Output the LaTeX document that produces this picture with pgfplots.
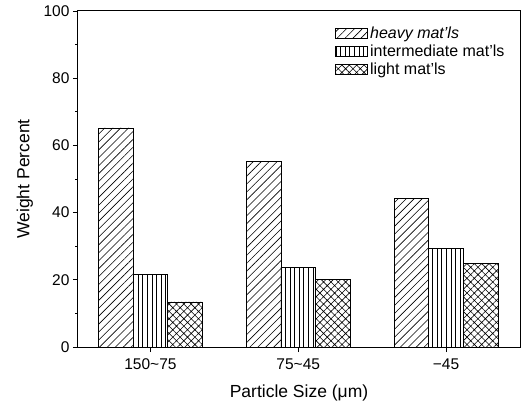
\documentclass[border=0pt]{standalone}
\usepackage{fontspec}
\setmainfont{Liberation Sans}
\usepackage{pgfplots}
\pgfplotsset{compat=1.18}
\usetikzlibrary{patterns.meta}
\begin{document}
\begin{tikzpicture}
\begin{axis}[
  name=ax,
  at={(0pt,0pt)}, anchor=south west,
  scale only axis,
  width=442pt, height=336pt,
  ybar=0pt, bar width=34.7pt,
  xmin=-0.49, xmax=2.5,
  ymin=0, ymax=100,
  xtick={0,1,2},
  xticklabels={150\textasciitilde75, 75\textasciitilde45, −45},
  ytick={0,20,40,60,80,100},
  minor ytick={10,30,50,70,90},
  tick align=outside,
  xtick pos=bottom, ytick pos=left,
  major tick length=5pt, minor tick length=2.5pt,
  axis line style={line width=1pt},
  every tick/.style={black, line width=0.9pt},
  /pgf/number format/assume math mode=true,
  ticklabel style={font=\fontsize{15.5}{17}\selectfont},
  xticklabel style={yshift=-3pt},
  xlabel={Particle Size (μm)},
  ylabel={Weight Percent},
  label style={font=\fontsize{17.5}{19}\selectfont},
  xlabel style={at={(axis description cs:0.5,-0.137)}, anchor=center},
  ylabel style={at={(axis description cs:-0.12,0.5)}, anchor=center, rotate=0},
  legend image code/.code={\draw[#1, line width=0.8pt] (0pt,-5pt) rectangle (32pt,5pt);},
  legend style={draw=none, fill=none, at={(0.575,0.965)}, anchor=north west,
    row sep=1pt,
    nodes={inner xsep=2pt, font=\fontsize{16}{18}\selectfont}},
  legend cell align=left,
]
\addplot[draw=black, line width=0.8pt, pattern={Lines[angle=45,distance=5.6pt,line width=0.6pt]}]
  coordinates {(0,65.2) (1,55.2) (2,44.2)};
\addplot[draw=black, line width=0.8pt, pattern={Lines[angle=90,distance=4.6pt,line width=0.6pt]}]
  coordinates {(0,21.5) (1,23.8) (2,29.3)};
\addplot[draw=black, line width=0.8pt, pattern={Hatch[angle=45,distance=5.2pt,line width=0.6pt]}]
  coordinates {(0,13.4) (1,20.1) (2,24.8)};
\legend{\textit{heavy mat'ls}, intermediate mat'ls, light mat'ls}
\end{axis}
\pgfresetboundingbox
\path (-78pt,-60pt) rectangle (444pt,347pt);
\end{tikzpicture}
\end{document}
